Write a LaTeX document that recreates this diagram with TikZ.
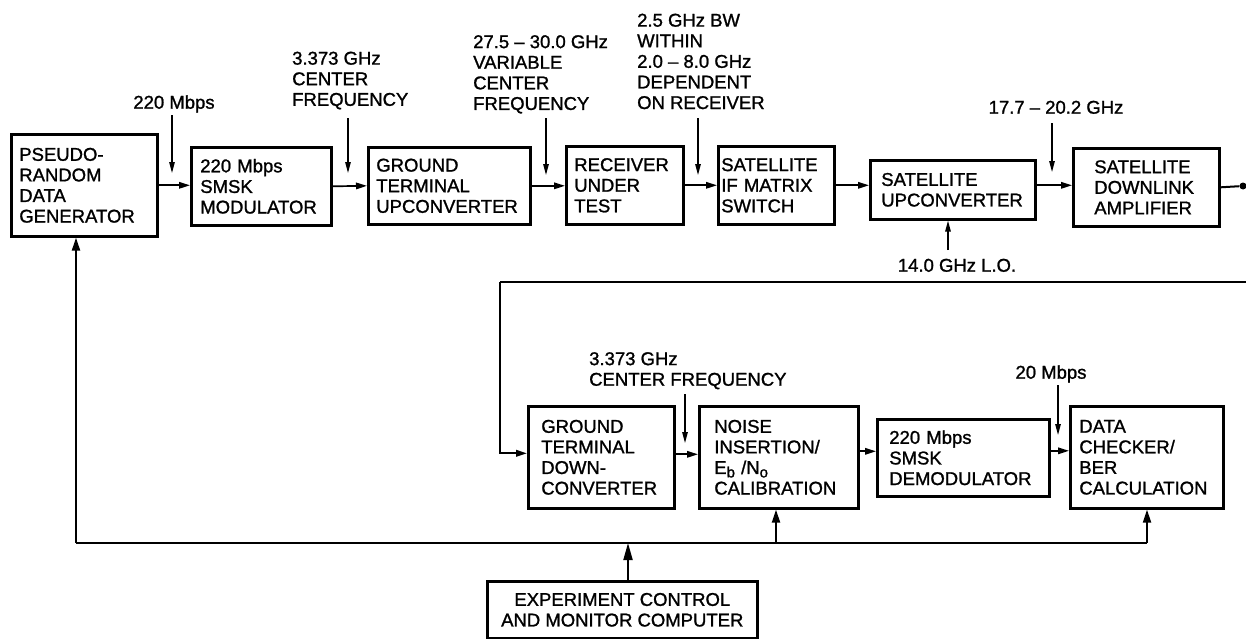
\documentclass[tikz,border=0pt]{standalone}
\usepackage{fontspec}
\setmainfont{Liberation Sans}[BoldFont={Liberation Sans},BoldFeatures={FakeBold=1.2}]
\usetikzlibrary{arrows.meta}
\newcommand\lblfont{\fontsize{18.5}{20.6}\selectfont\bfseries}
\begin{document}
\begin{tikzpicture}[x=1pt,y=-1pt,
  box/.style={draw, line width=2.6pt, inner sep=0pt, anchor=north west, align=left, font=\lblfont},
  lbl/.style={inner sep=0pt, align=left, font=\lblfont},
  flow/.style={line width=1.7pt, -{Triangle[length=11pt,width=6.5pt]}},
  note/.style={line width=1.3pt, -{Triangle[length=11pt,width=5.5pt]}},
  up/.style={line width=2pt, -{Triangle[length=13pt,width=8pt]}},
  wire/.style={line width=2pt}]
\useasboundingbox (0,0) rectangle (1246,638);
% top row
\node[box, minimum width=146, minimum height=102, text width=130] (gen) at (10,133) {PSEUDO-\\RANDOM\\DATA\\GENERATOR};
\node[box, minimum width=140, minimum height=78, text width=122] (mod) at (190,146) {220 Mbps\\SMSK\\MODULATOR};
\node[box, minimum width=162, minimum height=77, text width=146] (gup) at (367,146) {GROUND\\TERMINAL\\UPCONVERTER};
\node[box, minimum width=117, minimum height=78, text width=101] (rut) at (565,145) {RECEIVER\\UNDER\\TEST};
\node[box, minimum width=116, minimum height=78, text width=110] (ifm) at (717,145) {SATELLITE\\IF MATRIX\\SWITCH};
\node[box, minimum width=165, minimum height=59, text width=143] (sup) at (869,159) {SATELLITE\\UPCONVERTER};
\node[box, minimum width=146, minimum height=78, text width=104] (dla) at (1072,147) {SATELLITE\\DOWNLINK\\AMPLIFIER};
\node[circle, fill, inner sep=0pt, minimum size=7pt] (dot) at (1243,186) {};
% bottom row
\node[box, minimum width=146, minimum height=102, text width=120] (gdc) at (527,405) {GROUND\\TERMINAL\\DOWN-\\CONVERTER};
\node[box, minimum width=159, minimum height=102, text width=129] (noise) at (698,405) {NOISE\\INSERTION/\\E\raisebox{-0.35ex}{\fontsize{15}{15}\selectfont b} /N\raisebox{-0.35ex}{\fontsize{15}{15}\selectfont o}\\CALIBRATION};
\node[box, minimum width=172, minimum height=77, text width=148] (demod) at (876,418) {220 Mbps\\SMSK\\DEMODULATOR};
\node[box, minimum width=153, minimum height=102, text width=135] (ber) at (1069,405) {DATA\\CHECKER/\\BER\\CALCULATION};
\node[box, minimum width=270, minimum height=57, align=center] (comp) at (486,580) {EXPERIMENT CONTROL\\AND MONITOR COMPUTER};
% labels
\node[lbl, anchor=base] (l1) at (174,108.7) {220 Mbps};
\node[lbl, anchor=north west] (l2) at (292,51.5) {3.373 GHz\\CENTER\\FREQUENCY};
\node[lbl, anchor=north west] (l3) at (473,35) {27.5 -- 30.0 GHz\\VARIABLE\\CENTER\\FREQUENCY};
\node[lbl, anchor=north west] (l4) at (637,13.5) {2.5 GHz BW\\WITHIN\\2.0 -- 8.0 GHz\\DEPENDENT\\ON RECEIVER};
\node[lbl, anchor=base] (l5) at (1056,113.7) {17.7 -- 20.2 GHz};
\node[lbl, anchor=base] (l6) at (957,271.7) {14.0 GHz L.O.};
\node[lbl, anchor=north west] (l7) at (589,352) {3.373 GHz\\CENTER FREQUENCY};
\node[lbl, anchor=base] (l8) at (1051,378.7) {20 Mbps};
% label arrows
\coordinate (a1s) at (172,115); \coordinate (a1e) at (172,173);
\coordinate (a2s) at (348,118); \coordinate (a2e) at (348,173);
\coordinate (a3s) at (546,118); \coordinate (a3e) at (546,175);
\coordinate (a4s) at (698,118); \coordinate (a4e) at (698,175);
\coordinate (a5s) at (1052,123); \coordinate (a5e) at (1052,172);
\coordinate (a6s) at (948,250);
\coordinate (a7s) at (685,394); \coordinate (a7e) at (685,443);
\coordinate (a8s) at (1058,385); \coordinate (a8e) at (1058,435);
\draw[note] (a1s) -- (a1e);
\draw[note] (a2s) -- (a2e);
\draw[note] (a3s) -- (a3e);
\draw[note] (a4s) -- (a4e);
\draw[note] (a5s) -- (a5e);
\draw[note] (a6s) -- (a6s |- sup.south);
\draw[note] (a7s) -- (a7e);
\draw[note] (a8s) -- (a8e);
% main flow
\draw[flow] (gen.east) -- (gen.east -| mod.west);
\draw[flow] (mod.west -| mod.east) -- (gup.west);
\draw[flow] (gup.east) -- (gup.east -| rut.west);
\draw[flow] (rut.east) -- (ifm.west);
\draw[flow] (ifm.east) -- (ifm.east -| sup.west);
\draw[flow] (ifm.east -| sup.east) -- (ifm.east -| dla.west);
\draw[wire] (dla.east) -- (dot);
% feedback loop
\coordinate (fbR) at (1246,282);
\coordinate (fbL) at (500,282);
\draw[wire] (fbR) -- (fbL);
\draw[flow, line width=2pt] (fbL) |- ([yshift=4pt]gdc.west);
\draw[flow] ([yshift=3pt]gdc.east) -- ([yshift=3pt]gdc.east -| noise.west);
\draw[flow] ([yshift=6pt]noise.east) -- ([yshift=6pt]noise.east -| demod.west);
\draw[flow] ([yshift=7pt]demod.east) -- ([yshift=7pt]demod.east -| ber.west);
% control bus
\coordinate (busL) at (76,543);
\coordinate (busC) at (628,543);
\coordinate (busN) at (776,543);
\coordinate (busR) at (1147,543);
\draw[wire] (busL) -- (busR);
\draw[up] (busL) -- (busL |- gen.south);
\draw[up] (busN) -- (busN |- noise.south);
\draw[up] (busR) -- (busR |- ber.south);
\draw[up, -{Triangle[length=17pt,width=9pt]}] (busC |- comp.north) -- (busC);
\end{tikzpicture}
\end{document}
